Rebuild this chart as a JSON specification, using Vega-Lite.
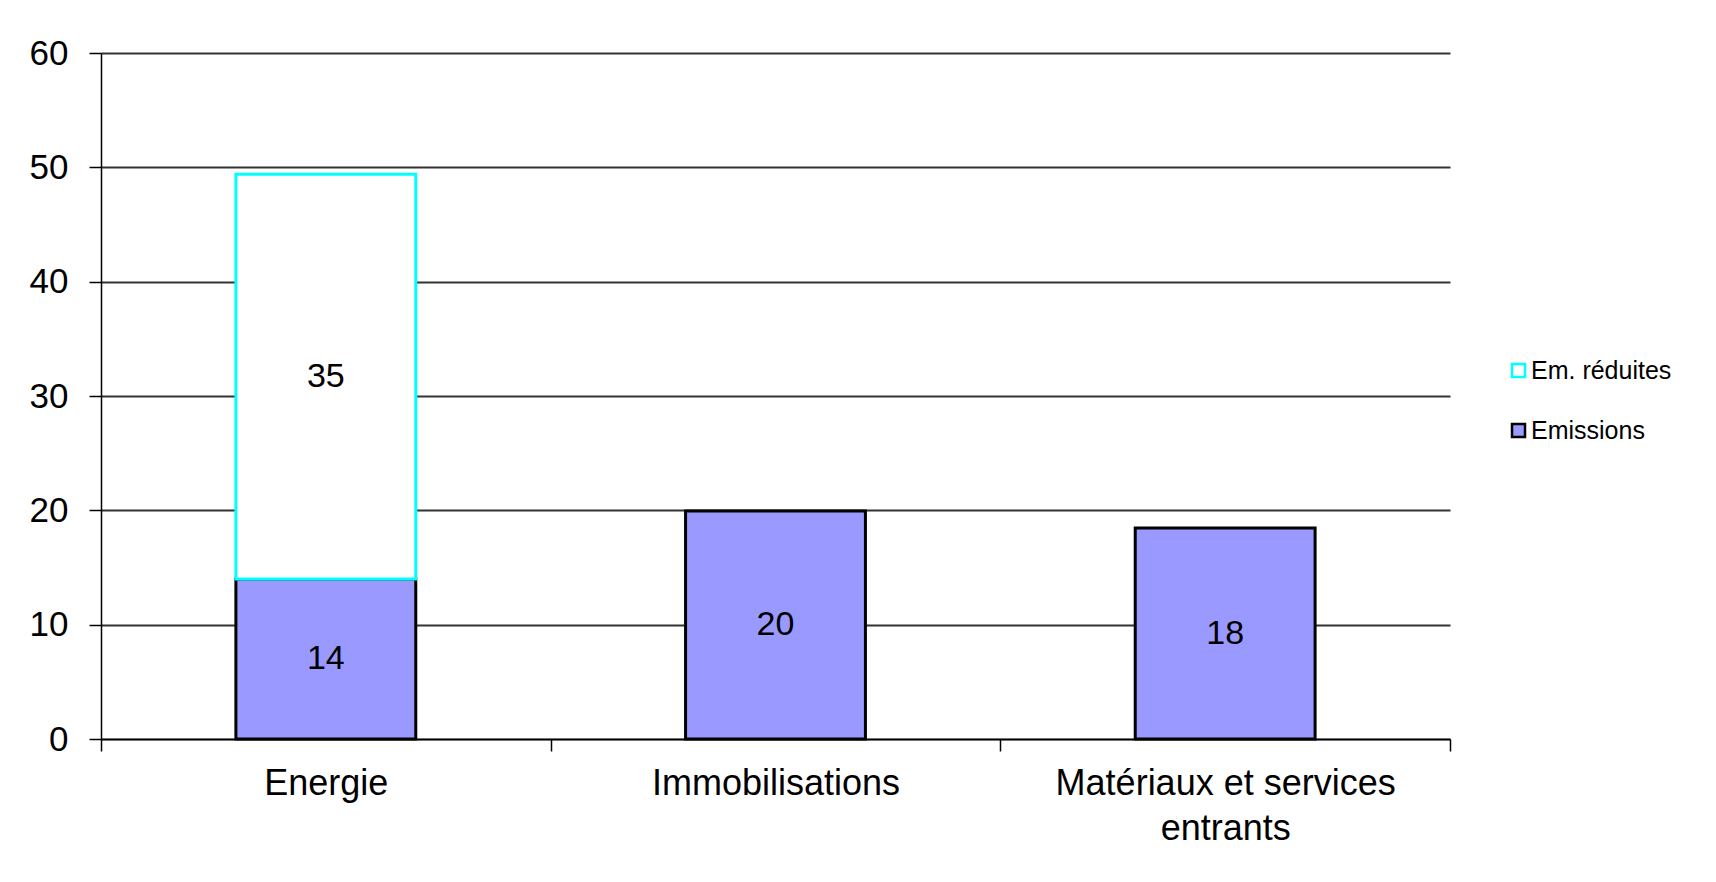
{
  "$schema": "https://vega.github.io/schema/vega-lite/v6.json",
  "width": 1349,
  "height": 686,
  "autosize": {"type": "none"},
  "padding": {"left": 101, "top": 53, "right": 266, "bottom": 143},
  "background": "white",
  "data": {
    "values": [
      {"cat": "Energie", "serie": "Emissions", "value": 14.0},
      {"cat": "Energie", "serie": "Em. réduites", "value": 35.4},
      {"cat": "Immobilisations", "serie": "Emissions", "value": 19.95},
      {"cat": "Matériaux et services entrants", "serie": "Emissions", "value": 18.45}
    ]
  },
  "transform": [
    {"stack": "value", "groupby": ["cat"], "sort": [{"field": "serie", "order": "descending"}], "as": ["v0", "v1"]},
    {"calculate": "(datum.v0 + datum.v1) / 2", "as": "mid"}
  ],
  "encoding": {
    "x": {
      "field": "cat",
      "type": "nominal",
      "sort": ["Energie", "Immobilisations", "Matériaux et services entrants"],
      "scale": {"paddingInner": 0, "paddingOuter": 0},
      "axis": {
        "title": null,
        "labelAngle": 0,
        "tickBand": "extent",
        "tickSize": 12,
        "tickColor": "black",
        "tickWidth": 1.5,
        "domainColor": "black",
        "domainWidth": 1.5,
        "labelPadding": 15,
        "labelFontSize": 36,
        "labelFont": "Liberation Sans",
        "labelColor": "black",
        "labelBaseline": "top",
        "labelLineHeight": 45,
        "labelLimit": 600,
        "labelExpr": "datum.label == 'Matériaux et services entrants' ? ['Matériaux et services', 'entrants'] : datum.label",
        "grid": false
      }
    }
  },
  "layer": [
    {
      "mark": {"type": "bar", "strokeWidth": 3, "width": {"band": 0.4}},
      "encoding": {
        "y": {
          "field": "v1",
          "type": "quantitative",
          "scale": {"domain": [0, 60], "nice": false},
          "axis": {
            "title": null,
            "values": [0, 10, 20, 30, 40, 50, 60],
            "tickSize": 12,
            "tickColor": "black",
            "tickWidth": 1.5,
            "domainColor": "black",
            "domainWidth": 1.5,
            "labelPadding": 21,
            "labelFontSize": 35,
            "labelFont": "Liberation Sans",
            "labelColor": "black",
            "grid": true,
            "gridColor": "#333333",
            "gridWidth": 2
          }
        },
        "y2": {"field": "v0"},
        "fill": {
          "field": "serie",
          "type": "nominal",
          "scale": {"domain": ["Em. réduites", "Emissions"], "range": ["white", "#9999ff"]},
          "legend": {"title": null}
        },
        "stroke": {
          "field": "serie",
          "type": "nominal",
          "scale": {"domain": ["Em. réduites", "Emissions"], "range": ["#00ffff", "black"]},
          "legend": {"title": null}
        }
      }
    },
    {
      "mark": {"type": "text", "fontSize": 34, "font": "Liberation Sans", "color": "black", "baseline": "middle", "align": "center"},
      "encoding": {
        "y": {"field": "mid", "type": "quantitative"},
        "text": {"field": "value", "type": "quantitative", "format": ".0f"}
      }
    }
  ],
  "config": {
    "view": {"stroke": null},
    "legend": {
      "orient": "none",
      "legendX": 1405,
      "legendY": 305,
      "padding": 0,
      "labelFont": "Liberation Sans",
      "labelFontSize": 25,
      "labelColor": "black",
      "labelOffset": 0,
      "symbolType": "square",
      "symbolSize": 169,
      "symbolStrokeWidth": 2.5,
      "rowPadding": 34
    }
  }
}
